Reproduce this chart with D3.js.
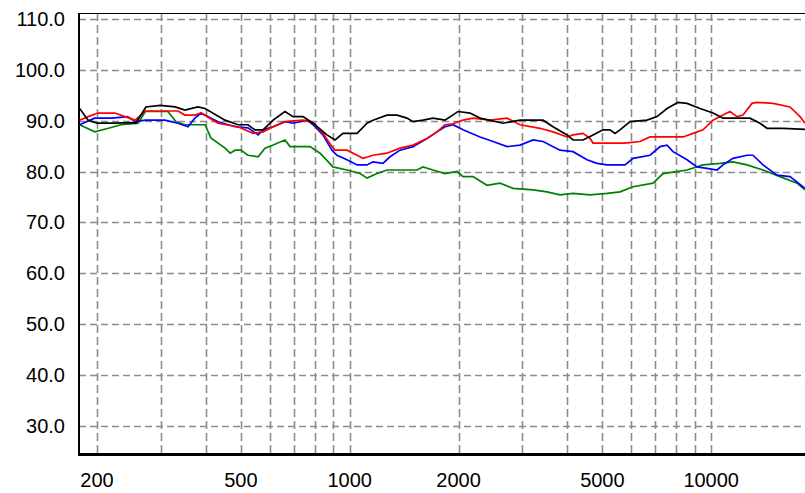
<!DOCTYPE html>
<html>
<head>
<meta charset="utf-8">
<script src="https://cdn.jsdelivr.net/npm/d3@7"></script>
<style>
  body { margin: 0; background: #ffffff; }
  text { font-family: "Liberation Sans", Arial, sans-serif; font-size: 20px; fill: #000; }
</style>
</head>
<body>
<div id="graph-pane"></div>
<script>
// Data (frequency in Hz, level in dB)
const blackFreq = [179,189,200,224,252,256,273,299,329,350,380,398,452,491,523,547,576,614,662,697,743,792,865,911,958,1048,1117,1160,1268,1352,1440,1497,1595,1700,1835,1994,2152,2294,2655,2959,3426,3651,3991,4147,4420,4711,5021,5248,5420,5595,5963,6645,7083,7548,8096,8574,9313,10116,10779,12803,13646,14268,15800,18176];
const blackDb   = [92.4,90.1,89.5,89.5,89.6,89.5,92.7,93.0,92.7,92.1,92.7,92.4,90.1,89.2,89.2,88.2,88.2,90.1,91.8,90.8,90.8,89.5,87.2,86.2,87.5,87.5,89.5,90.1,91.1,91.1,90.5,89.8,90.1,90.5,90.1,91.8,91.5,90.5,89.5,90.1,90.1,88.8,87.2,86.2,86.2,87.2,88.2,88.2,87.5,88.2,89.8,90.1,90.8,92.4,93.6,93.4,92.4,91.5,90.5,90.5,89.5,88.5,88.5,88.3];

const redFreq = [179,189,201,224,239,255,272,335,350,373,388,432,491,540,576,614,662,743,792,843,893,911,983,1048,1088,1160,1268,1378,1497,1636,1744,1835,1931,2058,2193,2444,2724,2959,3361,3651,3991,4147,4420,4622,4711,5777,6356,6774,8358,8908,9493,10116,10779,11272,11786,12245,12967,13387,14825,16520,17605,18176];
const redDb   = [90.1,90.8,91.5,91.5,90.8,90.1,91.9,91.9,91.1,91.1,91.5,89.5,88.8,87.5,87.8,88.8,89.8,90.1,89.6,87.5,84.9,84.2,84.2,83.2,82.6,83.2,83.6,84.6,85.2,86.5,87.8,89.2,89.4,90.1,90.5,90.1,90.5,89.2,88.5,87.8,86.8,87.2,87.5,86.5,85.6,85.6,85.9,86.8,86.8,87.5,88.2,90.1,91.1,91.8,90.8,91.1,93.4,93.6,93.4,92.7,90.8,89.5];

const blueFreq = [179,197,220,243,255,272,308,335,357,373,388,432,482,523,558,576,614,662,697,762,792,843,893,922,983,1048,1117,1160,1236,1293,1378,1497,1636,1744,1835,1931,2058,2294,2492,2724,2959,3216,3426,3817,4147,4534,4833,5151,5777,6079,6774,7220,7548,7842,8574,9137,9738,10375,10779,11490,12560,13050,13909,15207,16520,18176];
const blueDb   = [89.2,90.5,90.5,90.8,89.8,90.1,90.1,89.5,88.8,90.5,91.5,89.8,88.8,88.6,87.2,88.2,88.8,89.8,89.5,90.1,89.2,87.2,84.2,83.2,82.3,81.3,81.3,81.9,81.6,82.9,84.2,84.9,86.5,87.8,88.8,89.2,88.2,86.8,85.9,84.9,85.2,86.2,85.9,84.2,83.9,82.3,81.6,81.3,81.3,82.6,83.2,84.9,85.2,83.9,82.3,80.9,80.6,80.3,81.3,82.6,83.2,83.2,81.3,79.3,79.0,76.7];

const greenFreq = [179,197,215,233,260,272,314,331,350,398,413,452,467,482,500,523,558,583,614,662,684,777,828,899,983,1068,1117,1190,1268,1535,1595,1700,1835,1981,2058,2193,2398,2605,2830,3216,3514,3817,4147,4622,5151,5595,6079,6904,7359,8574,9493,10576,11490,12560,13909,15500,17272,18176];
const greenDb   = [89.2,87.8,88.5,89.2,89.5,91.8,91.8,89.8,89.2,89.2,86.6,84.6,83.6,84.2,84.2,83.2,82.9,84.6,85.2,86.2,84.9,84.9,83.6,80.9,80.3,79.6,78.7,79.6,80.3,80.3,80.9,80.3,79.6,80.0,79.0,79.0,77.3,77.7,76.7,76.4,76.0,75.4,75.7,75.4,75.7,76.0,77.0,77.7,79.6,80.3,81.3,81.6,81.9,81.3,80.3,79.0,77.7,76.4];

// Axis ticks
const yTicks = [30,40,50,60,70,80,90,100,110];
const xGrid = [200,300,400,500,600,700,800,900,1000,2000,3000,4000,5000,6000,7000,8000,9000,10000];
const xLabels = [200,500,1000,2000,5000,10000];

const W = 805, H = 493;
const plot = {left: 79, top: 13, right: 805, bottom: 454};

var svg = d3.select("#graph-pane")
  .append("svg")
    .attr("width", W)
    .attr("height", H);

// scales
var x = d3.scaleLog()
  .domain([1000, 10000])
  .range([349.7, 711.2]);
var y = d3.scaleLinear()
  .domain([30, 110])
  .range([425.7, 19]);

svg.append("defs").append("clipPath")
    .attr("id", "clip")
  .append("rect")
    .attr("x", plot.left)
    .attr("y", plot.top)
    .attr("width", plot.right - plot.left)
    .attr("height", plot.bottom - plot.top);

// grid
svg.append("g")
  .selectAll("line")
  .data(yTicks)
  .enter()
  .append("line")
    .attr("x1", plot.left)
    .attr("x2", plot.right)
    .attr("y1", d => Math.round(y(d)) + 0.5)
    .attr("y2", d => Math.round(y(d)) + 0.5)
    .style("stroke", "#8c8c8c")
    .style("stroke-width", 1.6)
    .style("stroke-dasharray", "7,4");

svg.append("g")
  .selectAll("line")
  .data(xGrid)
  .enter()
  .append("line")
    .attr("x1", d => Math.round(x(d)) + 0.5)
    .attr("x2", d => Math.round(x(d)) + 0.5)
    .attr("y1", plot.top)
    .attr("y2", plot.bottom)
    .style("stroke", "#8c8c8c")
    .style("stroke-width", 1.6)
    .style("stroke-dasharray", "8,4");

// frame
svg.append("line")
  .attr("x1", plot.left).attr("x2", plot.right)
  .attr("y1", plot.top + 0.5).attr("y2", plot.top + 0.5)
  .style("stroke", "#000").style("stroke-width", 1);
svg.append("line")
  .attr("x1", plot.left).attr("x2", plot.left)
  .attr("y1", plot.top).attr("y2", plot.bottom)
  .style("stroke", "#000").style("stroke-width", 2);
svg.append("line")
  .attr("x1", plot.left - 1).attr("x2", plot.right)
  .attr("y1", plot.bottom + 0.5).attr("y2", plot.bottom + 0.5)
  .style("stroke", "#000").style("stroke-width", 3);

// labels
svg.append("g")
  .selectAll("text")
  .data(yTicks)
  .enter()
  .append("text")
    .attr("x", 65)
    .attr("y", d => y(d) + 7)
    .attr("text-anchor", "end")
    .text(d => d.toFixed(1));

svg.append("g")
  .selectAll("text")
  .data(xLabels)
  .enter()
  .append("text")
    .attr("x", d => x(d))
    .attr("y", 487)
    .attr("text-anchor", "middle")
    .text(d => d);

// curves
var series = [
  {f: greenFreq, v: greenDb, color: "#008000"},
  {f: blueFreq, v: blueDb, color: "#0000ff"},
  {f: redFreq, v: redDb, color: "#ff0000"},
  {f: blackFreq, v: blackDb, color: "#000000"}
];

var line = d3.line()
  .x(d => x(d[0]))
  .y(d => y(d[1]));

svg.append("g")
  .attr("clip-path", "url(#clip)")
  .selectAll("path")
  .data(series)
  .enter()
  .append("path")
    .attr("d", s => line(s.f.map((f, i) => [f, s.v[i]])))
    .style("fill", "none")
    .style("stroke", s => s.color)
    .style("stroke-width", 1.7);
</script>
</body>
</html>
